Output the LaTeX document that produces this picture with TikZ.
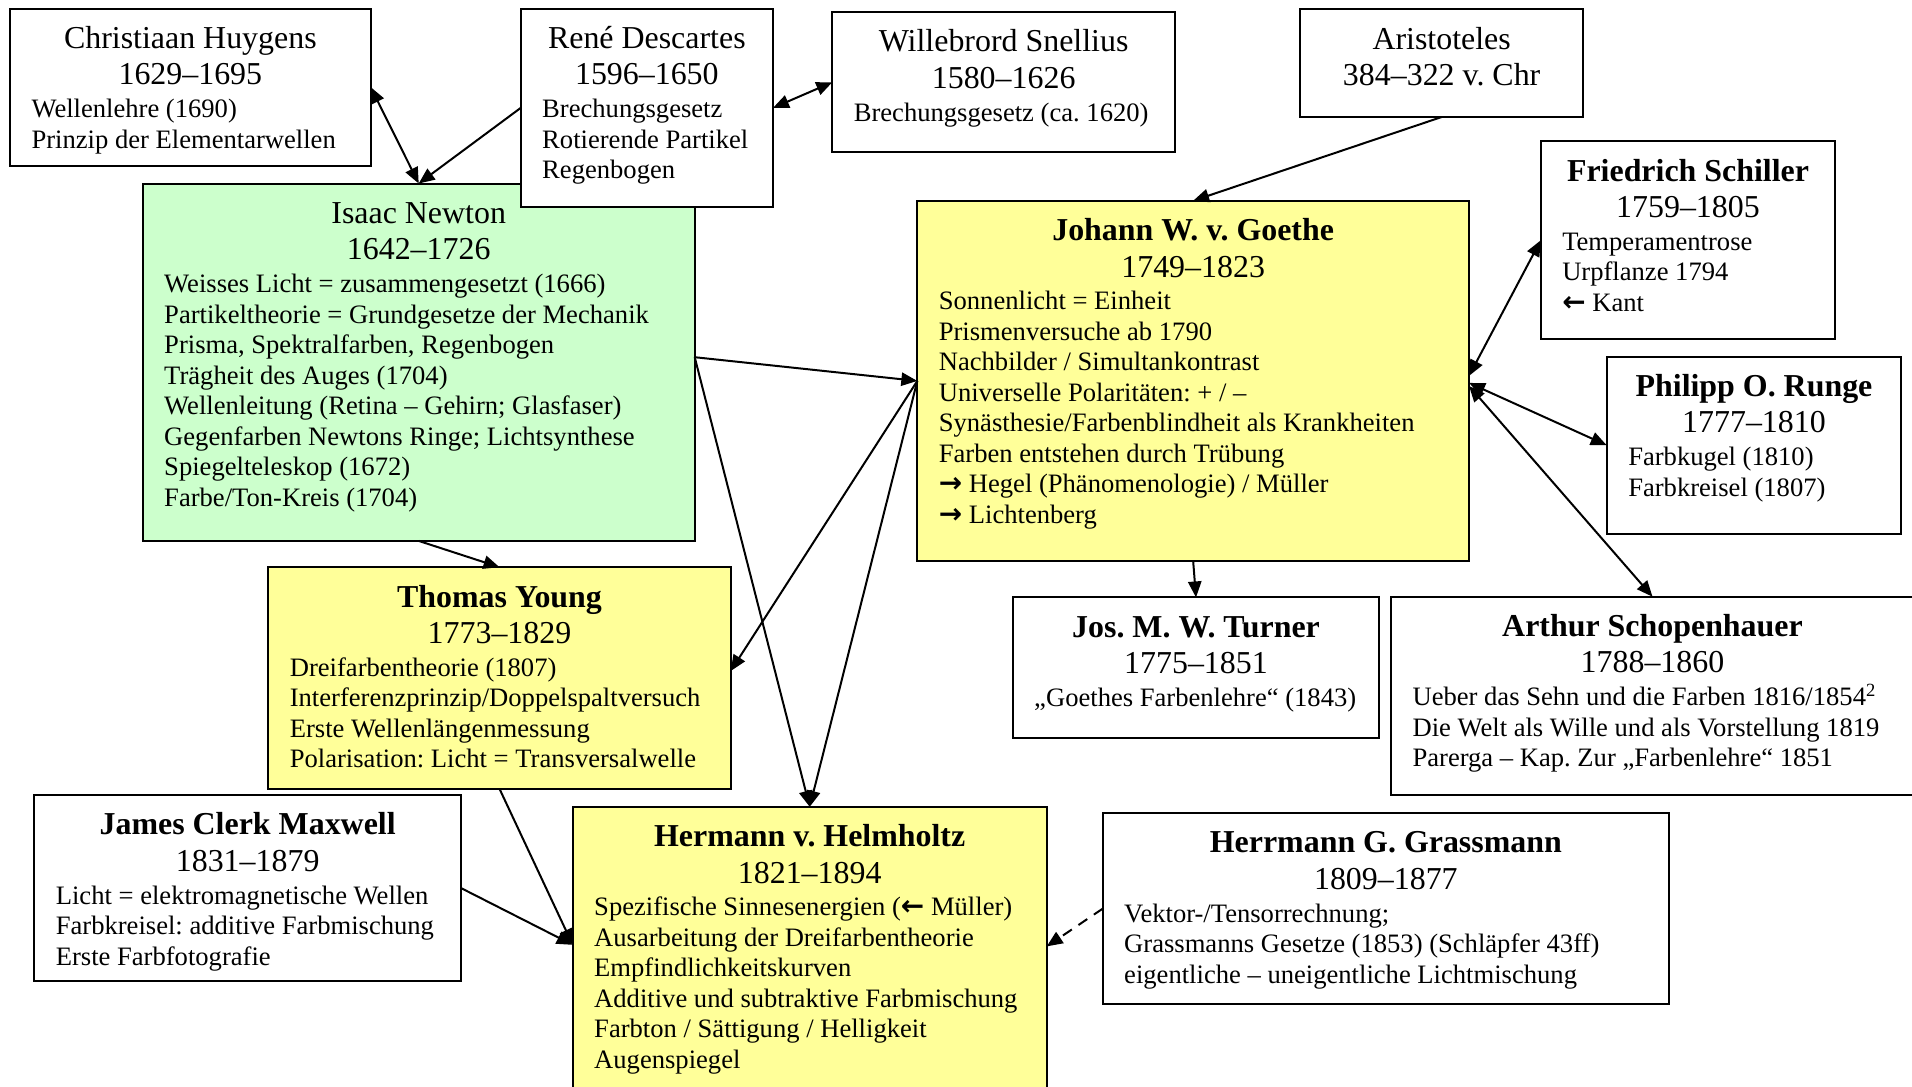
\documentclass[tikz,border=0pt]{standalone}
\usepackage{fontspec}
\setmainfont{Liberation Serif}
\newfontfamily\arrowfont{DejaVu Sans}
\newcommand\rarr{{\arrowfont\bfseries\fontsize{10.5}{10.5}\selectfont →}}
\newcommand\larr{{\arrowfont\bfseries\fontsize{10.5}{10.5}\selectfont ←}}
\usetikzlibrary{arrows.meta,calc,fit}
\definecolor{ngreen}{HTML}{CCFFCC}
\definecolor{nyellow}{HTML}{FFFF99}
\tikzset{
  box/.style={draw=black, line width=0.75pt, inner sep=0pt, outer sep=0pt},
  wbox/.style={box, fill=white},
  gbox/.style={box, fill=ngreen},
  ybox/.style={box, fill=nyellow},
  ttl/.style={inner sep=0pt, font=\fontsize{12}{13.7}\selectfont},
  bodytext/.style={inner sep=0pt, align=left, font=\fontsize{10}{11.47}\selectfont},
  conn/.style={line width=0.75pt, draw=black},
  dashconn/.style={conn, dash pattern=on 4pt off 3pt},
  >={Triangle[length=6pt,width=5pt]},
}
\newcommand\person[9]{%
  \node[#6, fit={(#2,#3) (#4,#5)}] (#1) {};
  \node[ttl, anchor=base] (#1T) at ($(#1.north)+(0,39.8)$) {#7};
  \node[ttl, anchor=base] (#1Y) at ($(#1.north)+(0,76.2)$) {#8};
  \node[bodytext, anchor=north west] (#1B) at ($(#1.north west)+(21,87.15)$) {\strut #9};
}
\frenchspacing
\begin{document}
\begin{tikzpicture}[x=0.376pt, y=-0.376pt]
\useasboundingbox[fill=white] (0,0) rectangle (1912,1086);
\clip (0,0) rectangle (1912,1086);

\person{huy}{10}{8.7}{370.7}{165.5}{wbox}{Christiaan Huygens}{1629–1695}{Wellenlehre (1690)\\Prinzip der Elementarwellen}
\person{newton}{142.7}{183.5}{694.7}{540.9}{gbox}{Isaac Newton}{1642–1726}{Weisses Licht = zusammengesetzt (1666)\\Partikeltheorie = Grundgesetze der Mechanik\\Prisma, Spektralfarben, Regenbogen\\Trägheit des Auges (1704)\\Wellenleitung (Retina – Gehirn; Glasfaser)\\Gegenfarben Newtons Ringe; Lichtsynthese\\Spiegelteleskop (1672)\\Farbe/Ton-Kreis (1704)}
\person{desc}{520.7}{8.7}{773}{207.1}{wbox}{René Descartes}{1596–1650}{Brechungsgesetz\\Rotierende Partikel\\Regenbogen}
\person{snel}{832.3}{12.1}{1175}{152.4}{wbox}{Willebrord Snellius}{1580–1626}{Brechungsgesetz (ca. 1620)}

\node[wbox, fit={(1300.3,9.3) (1583,117)}] (arist) {};
\node[ttl, anchor=base] (aristT) at ($(arist.north)+(0,39.8)$) {Aristoteles};
\node[ttl, anchor=base] (aristY) at ($(arist.north)+(0,76.2)$) {384–322 v. Chr};

\person{goethe}{917.3}{200.8}{1469}{561}{ybox}{\textbf{Johann W. v. Goethe}}{1749–1823}{Sonnenlicht = Einheit\\Prismenversuche ab 1790\\Nachbilder / Simultankontrast\\Universelle Polaritäten: + / –\\Synästhesie/Farbenblindheit als Krankheiten\\Farben entstehen durch Trübung\\\rarr{} Hegel (Phänomenologie) / Müller\\\rarr{} Lichtenberg}
\person{schiller}{1540.7}{141.3}{1835.3}{339.3}{wbox}{\textbf{Friedrich Schiller}}{1759–1805}{Temperamentrose\\Urpflanze 1794\\\larr{} Kant}
\person{runge}{1606.7}{356.6}{1901.3}{533.9}{wbox}{\textbf{Philipp O. Runge}}{1777–1810}{Farbkugel (1810)\\Farbkreisel (1807)}
\person{young}{268.3}{567.2}{730.7}{788.8}{ybox}{\textbf{Thomas Young}}{1773–1829}{Dreifarbentheorie (1807)\\Interferenzprinzip/Doppelspaltversuch\\Erste Wellenlängenmessung\\Polarisation: Licht = Transversalwelle}
\person{maxwell}{34.3}{795.1}{461}{981}{wbox}{\textbf{James Clerk Maxwell}}{1831–1879}{Licht = elektromagnetische Wellen\\Farbkreisel: additive Farbmischung\\Erste Farbfotografie}
\person{helm}{572.7}{806.8}{1046.7}{1110}{ybox}{\textbf{Hermann v. Helmholtz}}{1821–1894}{Spezifische Sinnesenergien (\larr{} Müller)\\Ausarbeitung der Dreifarbentheorie\\Empfindlichkeitskurven\\Additive und subtraktive Farbmischung\\Farbton / Sättigung / Helligkeit\\Augenspiegel}
\person{turner}{1012.7}{597.4}{1379.3}{738}{wbox}{\textbf{Jos. M. W. Turner}}{1775–1851}{„Goethes Farbenlehre“ (1843)}
\person{schop}{1391}{596.7}{1914}{795.1}{wbox}{\textbf{Arthur Schopenhauer}}{1788–1860}{Ueber das Sehn und die Farben 1816/1854\smash{\textsuperscript{2}}\\Die Welt als Wille und als Vorstellung 1819\\Parerga – Kap. Zur „Farbenlehre“ 1851}
\person{grass}{1102.7}{813.1}{1669}{1004.2}{wbox}{\textbf{Herrmann G. Grassmann}}{1809–1877}{Vektor-/Tensorrechnung;\\Grassmanns Gesetze (1853) (Schläpfer 43ff)\\eigentliche – uneigentliche Lichtmischung}

% connectors
\draw[conn, <->] (huy.east) -- (newton.north);
\draw[conn, ->] (desc.west) -- (newton.north);
\draw[conn, <->] (desc.east) -- (snel.west);
\draw[conn, ->] (arist.south) -- (goethe.north);
\draw[conn, ->] ($(newton.east)+(0,-5)$) -- (goethe.west);
\draw[conn, ->] ($(newton.east)+(0,-5)$) -- (helm.north);
\draw[conn, ->] (goethe.west) -- (helm.north);
\draw[conn, ->] (goethe.west) -- ($(young.east)+(0,-7)$);
\draw[conn, ->] (newton.south) -- (young.north);
\draw[conn, ->] (young.south) -- ($(helm.north west)+(0,138)$);
\draw[conn, ->] (maxwell.east) -- ($(helm.north west)+(0,138)$);
\draw[dashconn, ->] (grass.west) -- ($(helm.north east)+(0,139.6)$);
\draw[conn, ->] (goethe.south) -- (turner.north);
\draw[conn, <->] ($(goethe.east)+(0,-5)$) -- (schiller.west);
\draw[conn, <->] ($(goethe.east)+(0,2)$) -- (runge.west);
\draw[conn, <->] ($(goethe.east)+(0,5)$) -- (schop.north);
\end{tikzpicture}
\end{document}
